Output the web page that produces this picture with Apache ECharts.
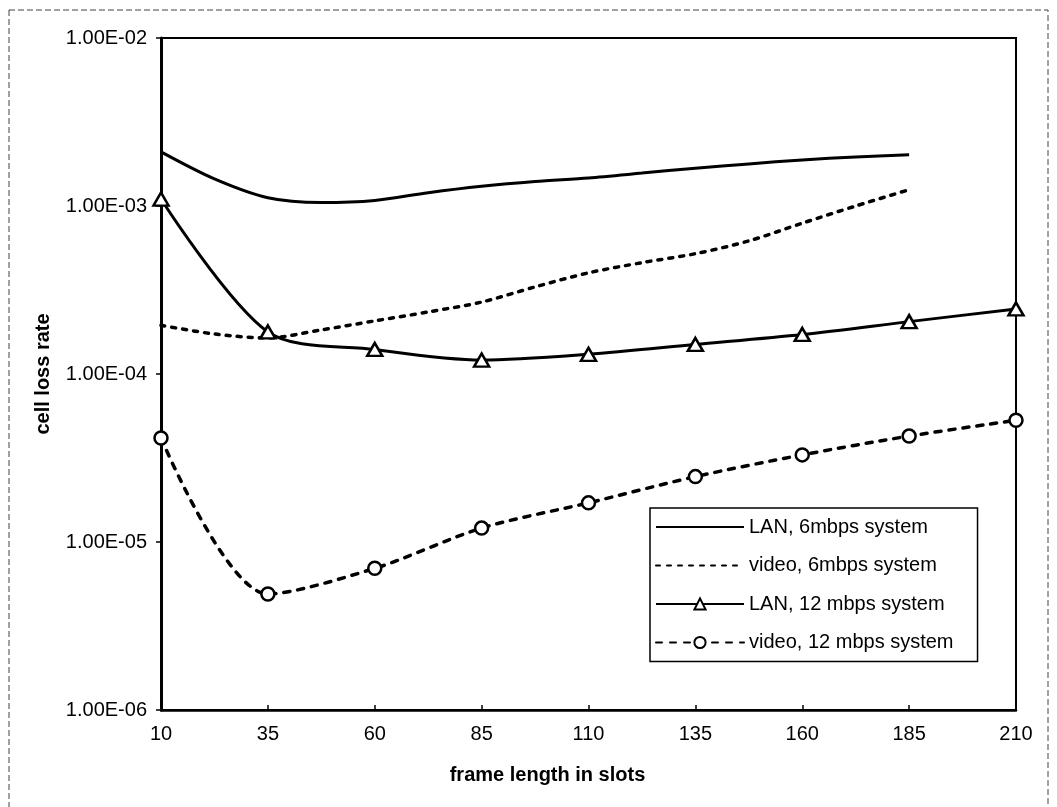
<!DOCTYPE html>
<html>
<head>
<meta charset="utf-8">
<script src="https://cdn.jsdelivr.net/npm/echarts@6/dist/echarts.min.js"></script>
<style>
  html, body { margin: 0; padding: 0; background: #fff; }
  #main { width: 1057px; height: 807px; }
</style>
</head>
<body>
<div id="main"></div>
<script>
// frame lengths (slots)
var framesCoarse = [10, 35, 60, 85, 110, 135, 160, 185, 210];
var framesFine = [10, 22.5, 35, 47.5, 60, 72.5, 85, 97.5, 110, 122.5, 135, 147.5, 160, 172.5, 185];

// cell loss rate
var lan6 = [2.1e-3, 1.45e-3, 1.12e-3, 1.05e-3, 1.08e-3, 1.2e-3, 1.31e-3, 1.4e-3, 1.47e-3, 1.57e-3, 1.68e-3, 1.78e-3, 1.88e-3, 1.96e-3, 2.02e-3];
var video6 = [1.95e-4, 1.73e-4, 1.64e-4, 1.83e-4, 2.07e-4, 2.34e-4, 2.68e-4, 3.3e-4, 4.0e-4, 4.6e-4, 5.2e-4, 6.2e-4, 7.9e-4, 1.0e-3, 1.25e-3];
var lan12 = [1.1e-3, 1.78e-4, 1.4e-4, 1.21e-4, 1.31e-4, 1.5e-4, 1.72e-4, 2.05e-4, 2.44e-4];
var video12 = [4.16e-5, 4.9e-6, 6.97e-6, 1.21e-5, 1.71e-5, 2.45e-5, 3.3e-5, 4.27e-5, 5.3e-5];

var seriesNames = ['LAN, 6mbps system', 'video, 6mbps system', 'LAN, 12 mbps system', 'video, 12 mbps system'];

function pairs(xs, ys) {
    return xs.map(function (x, i) { return [x, ys[i]]; });
}

function sci(v) {
    var e = Math.round(Math.log10(v));
    var m = v / Math.pow(10, e);
    var s = e < 0 ? '-' : '+';
    var a = Math.abs(e);
    return m.toFixed(2) + 'E' + s + (a < 10 ? '0' + a : a);
}

var font = 'Liberation Sans, Arial, sans-serif';
var chart = echarts.init(document.getElementById('main'));

var option = {
    backgroundColor: '#fff',
    animation: false,
    textStyle: { fontFamily: font, color: '#000' },
    graphic: [{
        type: 'rect',
        shape: { x: 9, y: 10, width: 1039, height: 800 },
        style: { fill: 'none', stroke: '#444', lineWidth: 1, lineDash: [6, 3] },
        silent: true
    }],
    grid: {
        left: 161, top: 38, right: 41, bottom: 97,
        show: true, borderColor: '#000', borderWidth: 2, backgroundColor: 'transparent'
    },
    legend: {
        orient: 'vertical',
        left: 650, top: 508,
        backgroundColor: '#fff',
        borderColor: '#000', borderWidth: 1.5, borderRadius: 0,
        padding: [8, 24, 8, 5],
        itemWidth: 88, itemHeight: 14, itemGap: 16.5,
        textStyle: { fontFamily: font, fontSize: 20, color: '#000', lineHeight: 22 },
        data: [
            { name: seriesNames[0], itemStyle: { opacity: 0 } },
            { name: seriesNames[1], itemStyle: { opacity: 0 } },
            { name: seriesNames[2] },
            { name: seriesNames[3] }
        ]
    },
    xAxis: {
        type: 'value',
        min: 10, max: 210, interval: 25,
        name: 'frame length in slots',
        nameLocation: 'middle',
        nameGap: 55,
        nameTextStyle: { fontFamily: font, fontSize: 20, fontWeight: 'bold', color: '#000', padding: [0, 82, 0, 0] },
        axisLine: { lineStyle: { color: '#000', width: 2.5 } },
        axisTick: { inside: true, length: 5, lineStyle: { color: '#000', width: 1.5 } },
        axisLabel: { fontSize: 20, color: '#000', margin: 14 },
        splitLine: { show: false }
    },
    yAxis: {
        type: 'log', logBase: 10,
        min: 1e-6, max: 1e-2,
        name: 'cell loss rate',
        nameLocation: 'middle',
        nameGap: 108,
        nameRotate: 90,
        nameTextStyle: { fontFamily: font, fontSize: 20, fontWeight: 'bold', color: '#000' },
        axisLine: { lineStyle: { color: '#000', width: 3 } },
        axisTick: { length: 5, lineStyle: { color: '#000', width: 1.5 } },
        minorTick: { show: false },
        axisLabel: { fontSize: 20, color: '#000', margin: 14, formatter: sci },
        splitLine: { show: false }
    },
    series: [
        {
            name: seriesNames[0], type: 'line', smooth: 0.3,
            data: pairs(framesFine, lan6),
            symbol: 'none',
            lineStyle: { color: '#000', width: 3 },
            itemStyle: { color: '#000' }
        },
        {
            name: seriesNames[1], type: 'line', smooth: 0.3,
            data: pairs(framesFine, video6),
            symbol: 'none',
            lineStyle: { color: '#000', width: 3.5, type: [4, 7], cap: 'round' },
            itemStyle: { color: '#000' }
        },
        {
            name: seriesNames[2], type: 'line', smooth: 0.3,
            data: pairs(framesCoarse, lan12),
            symbol: 'triangle', symbolSize: [15, 13],
            lineStyle: { color: '#000', width: 3 },
            itemStyle: { color: '#fff', borderColor: '#000', borderWidth: 2.5 }
        },
        {
            name: seriesNames[3], type: 'line', smooth: 0.3,
            data: pairs(framesCoarse, video12),
            symbol: 'circle', symbolSize: 13,
            lineStyle: { color: '#000', width: 3.5, type: [6, 8], cap: 'round' },
            itemStyle: { color: '#fff', borderColor: '#000', borderWidth: 2.5 }
        }
    ]
};

chart.setOption(option);
</script>
</body>
</html>
